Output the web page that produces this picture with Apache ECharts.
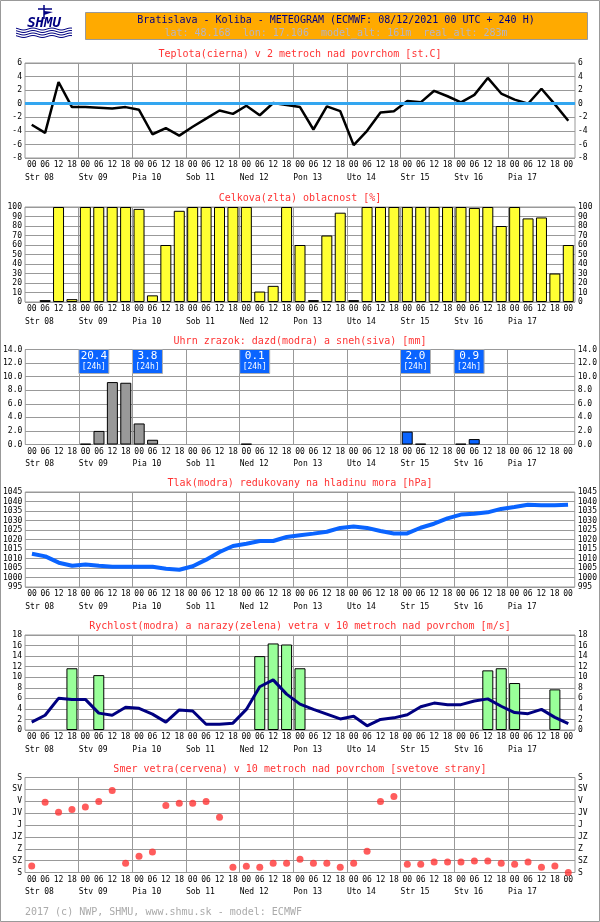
<!DOCTYPE html>
<html><head><meta charset="utf-8">
<script src="https://cdn.jsdelivr.net/npm/echarts@6/dist/echarts.min.js"></script>
<style>html,body{margin:0;padding:0;background:#fff}#c{width:600px;height:922px}</style>
</head><body><div id="c"></div><script>
// ---------- data ----------
const hourLabels = ['00','06','12','18','00','06','12','18','00','06','12','18','00','06','12','18','00','06','12','18',
  '00','06','12','18','00','06','12','18','00','06','12','18','00','06','12','18','00','06','12','18','00'];
const dayNames = ['Str 08','Stv 09','Pia 10','Sob 11','Ned 12','Pon 13','Uto 14','Str 15','Stv 16','Pia 17'];
const temperature = [-3.1,-4.3,3.2,-0.5,-0.5,-0.6,-0.7,-0.5,-0.9,-4.5,-3.6,-4.7,-3.4,-2.2,-1.0,-1.5,-0.3,-1.7,0.1,-0.2,
  -0.5,-3.8,-0.4,-1.1,-6.1,-4.0,-1.3,-1.1,0.4,0.2,1.9,1.1,0.2,1.3,3.8,1.5,0.6,0.0,2.2,-0.1,-2.5];
const cloud = [0,2,100,3,100,100,100,100,98,7,60,96,100,100,100,100,100,11,17,100,
  60,2,70,94,2,100,100,100,100,100,100,100,100,99,100,80,100,88,89,30,60];
const snow = [null,null,null,null,0.1,2.0,9.2,9.1,3.1,0.7,null,null,null,null,null,null,0.1,null,null,null,
  null,null,null,null,null,null,null,null,null,null,null,null,null,null,null,null,null,null,null,null,null];
const rain = [null,null,null,null,null,null,null,null,null,null,null,null,null,null,null,null,null,null,null,null,
  null,null,null,null,null,null,null,null,1.9,0.1,null,null,0.1,0.8,null,null,null,null,null,null,null];
const dayTotalIdx = [4,8,16,28,32];
const dayTotal = [20.4,3.8,0.1,2.0,0.9];
const pressure = [1012.5,1011.1,1007.8,1006.2,1006.8,1006.2,1005.7,1005.7,1005.7,1005.7,1004.6,1004.1,1005.9,1009.4,1013.4,1016.6,1017.8,1019.2,1019.2,1021.3,
  1022.2,1023.1,1024.1,1026.1,1026.8,1026.1,1024.5,1023.2,1023.2,1026.2,1028.3,1031.1,1033.1,1033.6,1034.3,1036.1,1037.1,1038.3,1038.0,1038.0,1038.3];
const windSpeed = [1.5,2.8,6.0,5.8,5.8,3.2,2.8,4.3,4.1,3.0,1.5,3.8,3.6,1.1,1.1,1.3,3.9,8.2,9.5,6.8,
  4.9,3.9,3.0,2.1,2.6,0.8,2.0,2.3,2.9,4.4,5.1,4.8,4.8,5.5,5.9,4.5,3.3,3.1,3.9,2.4,1.2];
const windGust = [null,null,null,11.7,null,10.4,null,null,null,null,null,null,null,null,null,null,null,14.0,16.4,16.2,
  11.7,null,null,null,null,null,null,null,null,null,null,null,null,null,11.3,11.7,8.9,null,null,7.7,null];
const windDirDeg = [335,94,132,121,112,91,49,325,298,282,106,98,98,91,151,340,336,340,325,325,
  310,325,325,340,325,279,91,72,329,329,320,320,320,316,316,325,329,320,340,335,360];
const dirNames = ['S','SZ','Z','JZ','J','JV','V','SV','S'];

// ---------- layout ----------
const FONT = "'DejaVu Sans Mono', monospace";
const TOPS = [63, 207, 349.5, 492, 635, 777.5];
const H = 95, L = 25, W = 550;
const titles = ['Teplota(cierna) v 2 metroch nad povrchom [st.C]','Celkova(zlta) oblacnost [%]',
  'Uhrn zrazok: dazd(modra) a sneh(siva) [mm]','Tlak(modra) redukovany na hladinu mora [hPa]',
  'Rychlost(modra) a narazy(zelena) vetra v 10 metroch nad povrchom [m/s]',
  'Smer vetra(cervena) v 10 metroch nad povrchom [svetove strany]'];
const yCfg = [
  {min:-8,max:6,interval:2,fmt:v=>String(v)},
  {min:0,max:100,interval:10,fmt:v=>String(v)},
  {min:0,max:14,interval:2,fmt:v=>v.toFixed(1)},
  {min:995,max:1045,interval:5,fmt:v=>String(v)},
  {min:0,max:18,interval:2,fmt:v=>String(v)},
  {min:0,max:360,interval:45,fmt:v=>dirNames[Math.round(v/45)]}
];
const dayAxisData = [];
for (let i = 0; i < 42; i++) dayAxisData.push(i % 4 === 0 && i / 4 < dayNames.length ? dayNames[i / 4] : '');

const grid = [], xAxis = [], yAxis = [];
const GRID = '#999';
TOPS.forEach((t, g) => {
  grid.push({left:L, top:t, width:W, height:H, show:true, borderColor:GRID, borderWidth:1});
  xAxis.push({type:'category', gridIndex:g, data:hourLabels, boundaryGap:true, position:'bottom',
    axisLine:{show:false}, axisTick:{show:false}, splitLine:{show:false},
    axisLabel:{interval:0, margin:3, fontSize:8, fontFamily:FONT, color:'#000'}});
  xAxis.push({type:'category', gridIndex:g, data:dayAxisData, boundaryGap:false, position:'bottom',
    axisLine:{show:false}, axisTick:{show:false},
    splitLine:{show:true, interval:(i)=> i % 4 === 0 && i > 0 && i < 40, lineStyle:{color:GRID, width:1}},
    axisLabel:{interval:0, margin:15.5, align:'left', fontSize:8, fontFamily:FONT, color:'#000'}});
  const c = yCfg[g];
  const common = {type:'value', gridIndex:g, min:c.min, max:c.max, interval:c.interval,
    axisLine:{show:false}, axisTick:{show:false},
    axisLabel:{margin:3, fontSize:8, fontFamily:FONT, color:'#000', formatter:c.fmt}};
  yAxis.push(Object.assign({}, common, {position:'left', splitLine:{show:true, lineStyle:{color:GRID, width:1}}}));
  yAxis.push(Object.assign({}, common, {position:'right', splitLine:{show:false}}));
});

const series = [
  {type:'line', xAxisIndex:0, yAxisIndex:0, data:[], z:1, silent:true,
   markLine:{silent:true, symbol:'none', label:{show:false}, lineStyle:{color:'#33a6f0', width:3, type:'solid'}, data:[{yAxis:0}]}},
  {type:'line', xAxisIndex:0, yAxisIndex:0, data:temperature, symbol:'none', z:3,
   lineStyle:{color:'#000', width:2.5}},
  {type:'bar', xAxisIndex:2, yAxisIndex:2, barWidth:11,
   data:cloud.map(v => v === 0 ? {value:0, itemStyle:{borderWidth:0}} : v),
   itemStyle:{color:'#ffff33', borderColor:'#000', borderWidth:1}},
  {type:'bar', xAxisIndex:4, yAxisIndex:4, data:snow, barWidth:11, barGap:'-100%',
   itemStyle:{color:'#999999', borderColor:'#000', borderWidth:1}},
  {type:'bar', xAxisIndex:4, yAxisIndex:4, data:rain, barWidth:11, barGap:'-100%',
   itemStyle:{color:'#0a64ff', borderColor:'#000', borderWidth:1}},
  {type:'custom', xAxisIndex:4, yAxisIndex:4, clip:false, z:5,
   data: dayTotalIdx.map((d, k) => [d, dayTotal[k]]),
   encode:{x:0, y:-1},
   renderItem:(params, api) => {
     const p = api.coord([api.value(0), 14]);
     const bw = api.size([1, 0])[0];
     const x0 = p[0] - bw / 2, y0 = p[1];
     return {type:'group', children:[
       {type:'rect', shape:{x:x0, y:y0, width:30, height:24}, style:{fill:'#0a64ff', stroke:'#b0b0b0', lineWidth:1}},
       {type:'text', style:{text:api.value(1).toFixed(1), x:x0+15, y:y0+7, align:'center', verticalAlign:'middle', fill:'#fff', font:'11px ' + FONT}},
       {type:'text', style:{text:'[24h]', x:x0+15, y:y0+17, align:'center', verticalAlign:'middle', fill:'#fff', font:'8px ' + FONT}}
     ]};
   }},
  {type:'line', xAxisIndex:6, yAxisIndex:6, data:pressure, symbol:'none',
   lineStyle:{color:'#0a64ff', width:4}},
  {type:'bar', xAxisIndex:8, yAxisIndex:8, data:windGust, barWidth:11,
   itemStyle:{color:'#99ff99', borderColor:'#000', borderWidth:1}},
  {type:'line', xAxisIndex:8, yAxisIndex:8, data:windSpeed, symbol:'none', z:4,
   lineStyle:{color:'#000080', width:3}},
  {type:'scatter', xAxisIndex:10, yAxisIndex:10, data:windDirDeg.map(d => 360 - d), symbolSize:7, clip:false,
   itemStyle:{color:'#ff3333'}}
];

// ---------- decorations / texts ----------
const graphic = [
  {type:'rect', shape:{x:0.5, y:0.5, width:599, height:921}, style:{fill:null, stroke:'#999', lineWidth:1}, z:100},
  {type:'rect', shape:{x:85.5, y:12.5, width:502, height:27}, style:{fill:'#ffaa00', stroke:'#999', lineWidth:1}},
  {type:'text', x:336, y:20, style:{text:'Bratislava - Koliba - METEOGRAM (ECMWF: 08/12/2021 00 UTC + 240 H)', align:'center', verticalAlign:'middle', fill:'#000080', font:'10px ' + FONT}},
  {type:'text', x:336, y:33, style:{text:'lat: 48.168  lon: 17.106  model_alt: 161m  real_alt: 283m', align:'center', verticalAlign:'middle', fill:'#b4b4c8', font:'10px ' + FONT}},
  {type:'text', x:25, y:912, style:{text:'2017 (c) NWP, SHMU, www.shmu.sk - model: ECMWF', align:'left', verticalAlign:'middle', fill:'#aaa', font:'10px ' + FONT}},
  // logo
  {type:'line', shape:{x1:44, y1:5, x2:44, y2:19}, style:{stroke:'#000080', lineWidth:1.5}},
  {type:'line', shape:{x1:38, y1:9, x2:52, y2:9}, style:{stroke:'#000080', lineWidth:1.5}},
  {type:'polygon', shape:{points:[[44,11],[53,12],[44,15]]}, style:{fill:'#000080'}},
  {type:'text', x:44, y:23, style:{text:'SHMU', align:'center', verticalAlign:'middle', fill:'#000080', font:'bold italic 14px ' + FONT}}
];
for (let k = 0; k < 4; k++) {
  const pts = [];
  for (let x = 16; x <= 72; x += 2) pts.push([x, 29 + k * 2.5 + Math.sin(x / 3) * 1]);
  graphic.push({type:'polyline', shape:{points:pts}, style:{stroke:'#000080', lineWidth:1, fill:null}});
}
titles.forEach((t, g) => graphic.push({type:'text', x:300, y:TOPS[g] - 8.5,
  style:{text:t, align:'center', verticalAlign:'middle', fill:'#ff3333', font:'10px ' + FONT}}));

const chart = echarts.init(document.getElementById('c'), null, {renderer:'canvas'});
chart.setOption({animation:false, backgroundColor:'#fff', grid, xAxis, yAxis, series, graphic});
</script></body></html>
